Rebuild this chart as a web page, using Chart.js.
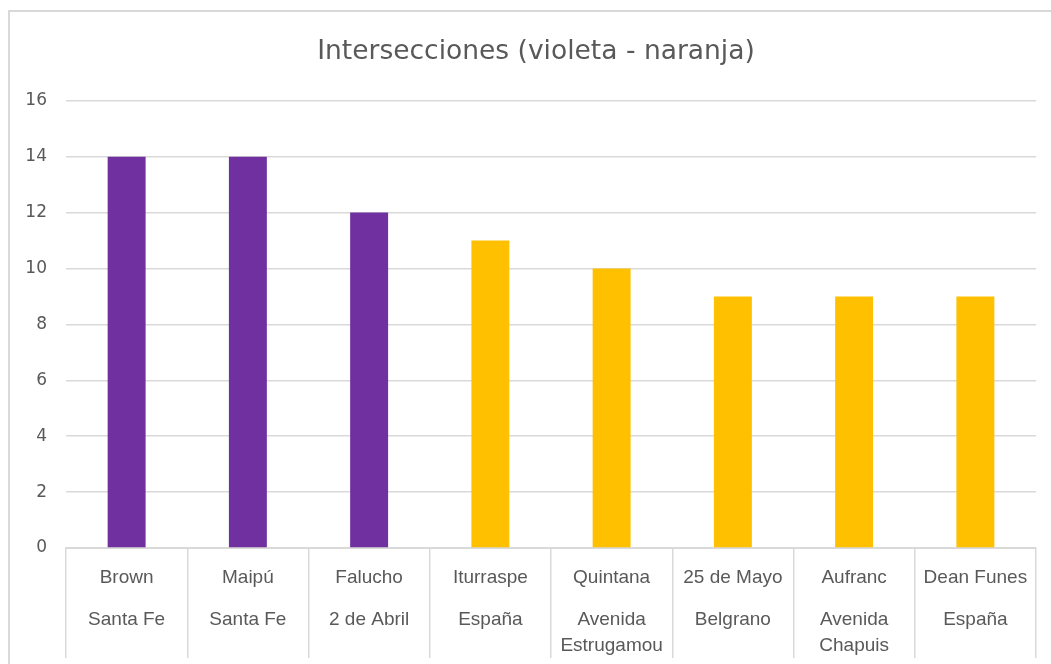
<!DOCTYPE html>
<html>
<head>
<meta charset="utf-8">
<script src="https://cdn.jsdelivr.net/npm/chart.js@4/dist/chart.umd.min.js"></script>
<style>
  html, body { margin: 0; padding: 0; background: #ffffff; overflow: hidden; width: 1051px; height: 664px; }
  #frame { position: absolute; left: 8px; top: 10px; width: 1062px; height: 700px; box-sizing: border-box; border: 2px solid #d9d9d9; }
  #wrap { position: absolute; left: 9px; top: 11px; width: 1054px; height: 680px; }
</style>
</head>
<body>
<div id="frame"></div>
<div id="wrap"><canvas id="c"></canvas></div>
<script>
const calleA = ['Brown', 'Maipú', 'Falucho', 'Iturraspe', 'Quintana', '25 de Mayo', 'Aufranc', 'Dean Funes'];
const calleB = ['Santa Fe', 'Santa Fe', '2 de Abril', 'España', ['Avenida', 'Estrugamou'], 'Belgrano', ['Avenida', 'Chapuis'], 'España'];
const intersecciones = [14, 14, 12, 11, 10, 9, 9, 9];
const barColors = ['#7030A0', '#7030A0', '#7030A0', '#FFC000', '#FFC000', '#FFC000', '#FFC000', '#FFC000'];
const yTicks = [0, 2, 4, 6, 8, 10, 12, 14, 16];
const titulo = 'Intersecciones (violeta - naranja)';

const textGrey = '#595959';
const gridGrey = '#d9d9d9';

const labelPlugin = {
  id: 'twoLevelLabels',
  afterLayout(chart) {
    // center the title on the whole chart frame (as in the original)
    if (chart.titleBlock) chart.titleBlock.right = chart.width;
  },
  afterDraw(chart) {
    const ctx = chart.ctx;
    const xs = chart.scales.x;
    ctx.save();
    ctx.font = '19px "Liberation Sans", Arial, sans-serif';
    ctx.fillStyle = textGrey;
    ctx.textAlign = 'center';
    ctx.textBaseline = 'alphabetic';
    const top = xs.top;
    for (let i = 0; i < calleA.length; i++) {
      const x = xs.getPixelForValue(i);
      ctx.fillText(calleA[i], x, top + 35);
      const b = Array.isArray(calleB[i]) ? calleB[i] : [calleB[i]];
      b.forEach((line, j) => {
        ctx.fillText(line, x, top + 77 + j * 26);
      });
    }
    ctx.restore();
  }
};

new Chart(document.getElementById('c'), {
  type: 'bar',
  data: {
    labels: calleA.map((a, i) => [a].concat(calleB[i])),
    datasets: [{
      label: 'Intersecciones',
      data: intersecciones,
      backgroundColor: barColors,
      borderWidth: 0,
      barPercentage: 0.313,
      categoryPercentage: 1.0
    }]
  },
  options: {
    responsive: true,
    maintainAspectRatio: false,
    devicePixelRatio: 1,
    animation: false,
    layout: { padding: { left: 0, right: 27, top: 0, bottom: 0 } },
    plugins: {
      legend: { display: false },
      tooltip: { enabled: false },
      title: {
        display: true,
        text: titulo,
        color: textGrey,
        font: { family: '"DejaVu Sans", sans-serif', size: 26.5, weight: 'normal', lineHeight: 1.2 },
        padding: { top: 25, bottom: 33 }
      }
    },
    scales: {
      x: {
        offset: true,
        grid: {
          display: true,
          offset: true,
          drawOnChartArea: false,
          drawTicks: true,
          tickLength: 110,
          tickColor: gridGrey,
          tickWidth: 1.5,
          color: gridGrey,
          lineWidth: 1.5
        },
        border: { display: true, color: gridGrey, width: 2 },
        ticks: { display: false },
        afterFit(scale) { scale.height = 143; }
      },
      y: {
        min: 0,
        max: 16,
        afterBuildTicks(scale) { scale.ticks = yTicks.map(v => ({ value: v })); },
        grid: { color: gridGrey, lineWidth: 1.5, drawTicks: false, tickLength: 0 },
        border: { display: false },
        ticks: {
          color: textGrey,
          font: { family: '"DejaVu Sans", sans-serif', size: 17 },
          padding: 19
        },
        afterFit(scale) { scale.width = 57; }
      }
    }
  },
  plugins: [labelPlugin]
});
</script>
</body>
</html>
